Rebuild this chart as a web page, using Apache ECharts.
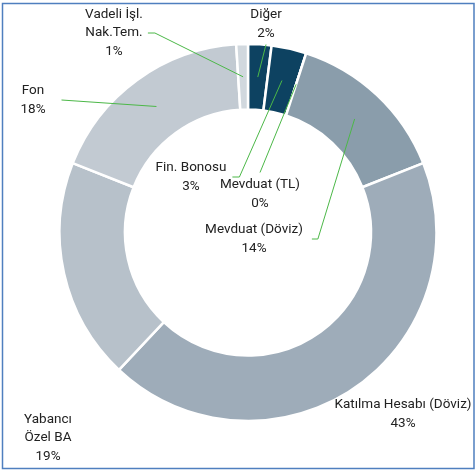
<!DOCTYPE html>
<html>
<head>
<meta charset="utf-8">
<script src="https://cdn.jsdelivr.net/npm/echarts@6/dist/echarts.min.js"></script>
<style>
  html, body { margin: 0; padding: 0; background: #ffffff; }
  #chart { width: 475px; height: 471px; }
</style>
</head>
<body>
<div id="chart"></div>
<script>
// Portfolio breakdown (percent), clockwise from 12 o'clock
const categories = [
  'Diğer',
  'Fin. Bonosu',
  'Mevduat (TL)',
  'Mevduat (Döviz)',
  'Katılma Hesabı (Döviz)',
  'Yabancı\nÖzel BA',
  'Fon',
  'Vadeli İşl.\nNak.Tem.'
];
const shares = [2, 3, 0, 14, 43, 19, 18, 1];
const sliceColors = ['#0d4261', '#0d4261', '#0d4261', '#8a9dab', '#9eacb9', '#b7c1ca', '#c2cad2', '#d1d8de'];

// Ring geometry
const CENTER = [248, 232.5];
const R_IN = 123;
const R_OUT = 188.5;

// Where each label block sits (its centre) and which side the leader line meets
const labelPlacement = [
  { x: 266, y: 24,  side: 'bottom', gap: 2 },
  { x: 191, y: 177, side: 'right',  gap: 6,  stub: 7 },
  { x: 260, y: 194, side: 'top',    gap: 3 },
  { x: 254, y: 239, side: 'right',  gap: 9,  stub: 6 },
  { x: 403, y: 414, side: null },
  { x: 48,  y: 438, side: null },
  { x: 33,  y: 100, side: 'right',  gap: 16, stub: 0 },
  { x: 114, y: 33,  side: 'right',  gap: 5,  stub: 7 }
];

// Mid-angle point of each slice, halfway across the ring
const total = shares.reduce((a, b) => a + b, 0);
const sliceAnchors = [];
let acc = 0;
shares.forEach(v => {
  const a = (acc + v / 2) / total * Math.PI * 2;
  const r = (R_IN + R_OUT) / 2;
  sliceAnchors.push([CENTER[0] + r * Math.sin(a), CENTER[1] - r * Math.cos(a)]);
  acc += v;
});

// Ring slices
const ringData = categories.map((name, i) => ({
  name: name,
  value: shares[i],
  itemStyle: { color: sliceColors[i] }
}));

// Same slices, invisible, carrying the labels and their leader lines on top of the ring
const labelData = categories.map((name, i) => ({
  name: name,
  value: shares[i],
  labelLine: { show: labelPlacement[i].side !== null }
}));

const chart = echarts.init(document.getElementById('chart'), null, { renderer: 'canvas' });

chart.setOption({
  animation: false,
  backgroundColor: '#ffffff',
  graphic: [{
    type: 'rect',
    shape: { x: 2.5, y: 3.5, width: 471.5, height: 465 },
    style: { fill: 'none', stroke: '#4f7fbf', lineWidth: 1.5 },
    silent: true,
    z: 100
  }],
  series: [{
    type: 'pie',
    z: 2,
    center: CENTER,
    radius: [R_IN, R_OUT],
    startAngle: 90,
    clockwise: true,
    data: ringData,
    itemStyle: { borderColor: '#ffffff', borderWidth: 2.5 },
    label: { show: false },
    labelLine: { show: false },
    emphasis: { disabled: true },
    silent: true
  }, {
    type: 'pie',
    z: 3,
    center: CENTER,
    radius: [R_IN, R_OUT],
    startAngle: 90,
    clockwise: true,
    avoidLabelOverlap: false,
    data: labelData,
    itemStyle: { color: 'rgba(0,0,0,0)', borderWidth: 0 },
    label: {
      show: true,
      position: 'outside',
      formatter: p => p.name + '\n' + p.value + '%',
      color: '#222222',
      fontFamily: 'Roboto',
      fontSize: 13.5,
      lineHeight: 18.5,
      align: 'center'
    },
    labelLine: {
      show: true,
      lineStyle: { color: '#4cb848', width: 1 }
    },
    emphasis: { disabled: true },
    silent: true,
    labelLayout: function (params) {
      const i = params.dataIndex;
      const pl = labelPlacement[i];
      const w = params.labelRect.width;
      const h = params.labelRect.height;
      const out = { x: pl.x, y: pl.y, align: 'center', verticalAlign: 'middle', hideOverlap: false };
      if (pl.side) {
        let end, mid;
        const stub = pl.stub || 0;
        if (pl.side === 'right') {
          end = [pl.x + w / 2 + pl.gap, pl.y];
          mid = [end[0] + stub, end[1]];
        } else if (pl.side === 'left') {
          end = [pl.x - w / 2 - pl.gap, pl.y];
          mid = [end[0] - stub, end[1]];
        } else if (pl.side === 'top') {
          end = [pl.x, pl.y - h / 2 - pl.gap];
          mid = end.slice();
        } else {
          end = [pl.x, pl.y + h / 2 + pl.gap];
          mid = end.slice();
        }
        out.labelLinePoints = [end, mid, sliceAnchors[i]];
      }
      return out;
    }
  }]
});
</script>
</body>
</html>
